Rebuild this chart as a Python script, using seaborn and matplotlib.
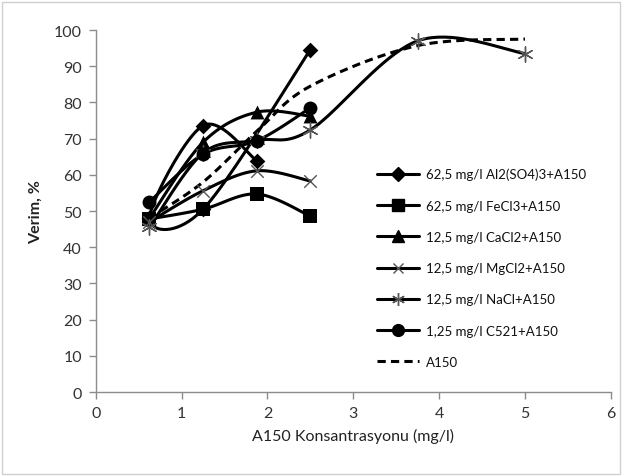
import numpy as np
import pandas as pd
import matplotlib
matplotlib.use("Agg")
import matplotlib.pyplot as plt
from matplotlib.lines import Line2D
from matplotlib.patches import Rectangle
import seaborn as sns

# ---- data ----
x4 = [0.625, 1.25, 1.875, 2.5]
x6 = [0.625, 1.25, 1.875, 2.5, 3.75, 5.0]

# Al2(SO4)3 series as drawn in the reference (its path visits the points in this order)
al_x = [1.875, 1.25, 0.625, 1.25, 2.5]
al_y = [63.9, 73.6, 48.0, 50.5, 94.6]
fecl3_y = [47.8, 50.5, 54.7, 48.6]
cacl2_y = [48.0, 69.0, 77.3, 76.2]
mgcl2_y = [47.0, 55.6, 61.1, 58.3]
nacl_y = [45.5, 66.0, 69.5, 72.4, 97.0, 93.5]
c521_y = [52.5, 65.7, 69.4, 78.5]
a150_y = [48.0, 58.0, 72.0, 84.5, 95.7, 97.5]

labels = ["62,5 mg/l Al2(SO4)3+A150", "62,5 mg/l FeCl3+A150",
          "12,5 mg/l CaCl2+A150", "12,5 mg/l MgCl2+A150",
          "12,5 mg/l NaCl+A150", "1,25 mg/l C521+A150", "A150"]
x_ticks = [0, 1, 2, 3, 4, 5, 6]
y_ticks = list(range(0, 101, 10))


def excel_smooth(xs, ys, n=40):
    """Excel-style smoothed line (cubic Bezier, tension 1/6)."""
    P = np.column_stack([xs, ys]).astype(float)
    out = []
    m = len(P)
    for i in range(m - 1):
        p0 = P[i - 1] if i > 0 else P[i]
        p1, p2 = P[i], P[i + 1]
        p3 = P[i + 2] if i + 2 < m else P[i + 1]
        c1 = p1 + (p2 - p0) / 6.0
        c2 = p2 - (p3 - p1) / 6.0
        t = np.linspace(0, 1, n)[:, None]
        seg = ((1 - t) ** 3) * p1 + 3 * ((1 - t) ** 2) * t * c1 + 3 * (1 - t) * t ** 2 * c2 + t ** 3 * p2
        out.append(seg if i == 0 else seg[1:])
    s = np.vstack(out)
    return s[:, 0], s[:, 1]


sns.set_style("white")
plt.rcParams["font.family"] = ["Lato", "DejaVu Sans"]

fig = plt.figure(figsize=(6.22, 4.77), dpi=100)
ax = fig.add_axes([0.154, 0.176, 0.828, 0.759])

series = [
    (al_x, al_y, "D", 8, labels[0]),
    (x4, fecl3_y, "s", 10, labels[1]),
    (x4, cacl2_y, "^", 10, labels[2]),
    (x4, mgcl2_y, "x", 9, labels[3]),
    (x6, nacl_y, (6, 2, 0), 11, labels[4]),
    (x4, c521_y, "o", 10, labels[5]),
]
lw = 2.2
dash = (0, (2.7, 1.7))
handles = []
for xs, ys, mk, ms, lab in series:
    sx, sy = excel_smooth(xs, ys)
    df = pd.DataFrame({"x": sx, "y": sy})
    sns.lineplot(data=df, x="x", y="y", sort=False, estimator=None, ax=ax,
                 color="black", lw=lw, solid_capstyle="round")
    mdf = pd.DataFrame({"x": xs, "y": ys})
    thin = mk in ("x",) or isinstance(mk, tuple)
    sns.scatterplot(data=mdf, x="x", y="y", ax=ax, marker=mk, s=ms ** 2,
                    color="black" if not thin else "#555555",
                    edgecolor="black" if not thin else None,
                    linewidth=0 if not thin else 1.0, zorder=5)
    handles.append(Line2D([], [], color="black", lw=lw, marker=mk, markersize=ms * 0.85,
                          markerfacecolor="black", markeredgecolor="black" if not thin else "#555555",
                          markeredgewidth=1.0))

sx, sy = excel_smooth(x6, a150_y)
df = pd.DataFrame({"x": sx, "y": sy})
sns.lineplot(data=df, x="x", y="y", sort=False, estimator=None, ax=ax,
             color="black", lw=lw, linestyle=dash)
handles.append(Line2D([], [], color="black", lw=lw, linestyle=dash))

ax.set_xlim(0, 6)
ax.set_ylim(0, 100)
ax.set_xticks(x_ticks)
ax.set_yticks(y_ticks)
ax.set_xticklabels([str(v) for v in x_ticks], fontsize=11.5, color="#333333")
ax.set_yticklabels([str(v) for v in y_ticks], fontsize=11.5, color="#333333")
ax.set_xlabel("A150 Konsantrasyonu (mg/l)", fontsize=11.5, color="#222222", labelpad=6)
ax.set_ylabel("Verim, %", fontsize=11.5, fontweight="bold", color="#222222", labelpad=8)

for side in ("top", "right"):
    ax.spines[side].set_visible(False)
for side in ("left", "bottom"):
    ax.spines[side].set_color("#8c8c8c")
    ax.spines[side].set_linewidth(1.0)
ax.tick_params(axis="both", which="both", direction="out", length=5, width=1,
               color="#8c8c8c", left=True, bottom=True, pad=5)

leg = ax.legend(handles, labels, loc="upper left", bbox_to_anchor=(0.522, 0.652),
                frameon=False, fontsize=9.5, handlelength=3.2, handletextpad=0.55,
                labelspacing=1.46, numpoints=1)
for t in leg.get_texts():
    t.set_color("#111111")

fig.patches.append(Rectangle((0.004, 0.004), 0.992, 0.99, transform=fig.transFigure,
                             fill=False, edgecolor="#d0d0d0", lw=1.0))

fig.savefig("out.png", dpi=100)
